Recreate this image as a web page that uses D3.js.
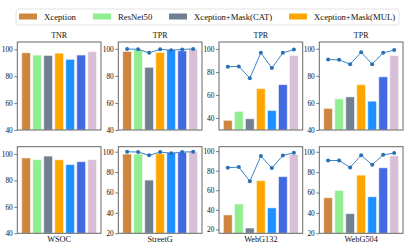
<!DOCTYPE html>
<html>
<head>
<meta charset="utf-8">
<script src="https://cdn.jsdelivr.net/npm/d3@7"></script>
<style>
  body { margin: 0; background: #fff; }
  text { font-family: "Liberation Serif", "DejaVu Serif", serif; fill: #111; }
</style>
</head>
<body>
<div class="chart"></div>
<script>
// data
var models = ["Xception", "ResNet50", "Xception+Mask(CAT)", "Xception+Mask(MUL)", "Model5", "Model6", "Model7"];
var colors = ["#CD853F", "#90EE90", "#708090", "#FFA500", "#1E90FF", "#4169E1", "#D8BFD8"];
var legendCount = 4;

var datasets = ["WSOC", "StreetG", "WebG132", "WebG504"];
var topTitles = ["TNR", "TPR", "TPR", "TPR"];

// top row bars
var topBars = [
    [97.5, 95.8, 95.5, 97.2, 92.6, 95.8, 98.3],
    [98.0, 99.4, 86.3, 97.3, 99.3, 98.5, 99.9],
    [38.0, 45.8, 39.4, 65.5, 46.5, 69.0, 94.3],
    [56.0, 63.0, 64.5, 73.5, 61.3, 79.3, 95.0]
];
var topLines = [
    null,
    [99.8, 99.6, 97.0, 99.6, 98.9, 99.5, 99.9],
    [84.6, 84.8, 74.6, 96.6, 83.4, 96.6, 99.4],
    [92.0, 91.8, 88.6, 97.4, 88.6, 97.0, 99.0]
];
// bottom row bars
var bottomBars = [
    [97.0, 95.7, 98.4, 95.6, 92.0, 94.2, 95.7],
    [97.7, 97.7, 72.2, 98.0, 99.3, 99.4, 99.9],
    [34.8, 46.0, 21.4, 69.8, 42.0, 73.9, 96.6],
    [54.9, 62.0, 39.3, 77.1, 55.9, 84.3, 96.0]
];
var bottomLines = [
    null,
    [99.9, 99.7, 96.4, 99.7, 98.4, 99.7, 99.9],
    [83.0, 83.7, 69.2, 95.0, 82.7, 95.6, 98.3],
    [91.5, 91.5, 84.6, 96.7, 87.3, 97.0, 98.7]
];

var topDomains = [[40, 105.5], [40, 105], [29.6, 106], [40, 105]];
var bottomDomains = [[40, 105.5], [20, 104.9], [16, 104.5], [20, 105]];
var topTicks = [[40, 60, 80, 100], [40, 60, 80, 100], [40, 60, 80, 100], [40, 60, 80, 100]];
var bottomTicks = [[40, 60, 80, 100], [20, 40, 60, 80, 100], [20, 40, 60, 80, 100], [20, 40, 60, 80, 100]];

document.addEventListener('DOMContentLoaded', function() {
    drawFigure();
})

function drawFigure() {
    var W = 411, H = 247;
    var colX = [17.3, 118.3, 219, 319.3];
    var panelW = 83.7;
    var rows = [
        {top: 42, h: 88, bars: topBars, lines: topLines, domains: topDomains, ticks: topTicks},
        {top: 146.7, h: 86.6, bars: bottomBars, lines: bottomLines, domains: bottomDomains, ticks: bottomTicks}
    ];

    var svg = d3.select(".chart")
        .append("svg")
            .attr("width", W)
            .attr("height", H);

    // legend
    var leg = svg.append("g");
    leg.append("rect")
        .attr("x", 16).attr("y", 9)
        .attr("width", 383).attr("height", 16)
        .attr("rx", 2)
        .attr("fill", "#fff")
        .attr("stroke", "#dcdcdc")
        .attr("stroke-width", 0.8);
    var legX = [19, 93, 169, 289];
    for (var i = 0; i < legendCount; i++) {
        leg.append("rect")
            .attr("x", legX[i]).attr("y", 13.5)
            .attr("width", 18).attr("height", 6)
            .attr("fill", colors[i]);
        leg.append("text")
            .attr("x", legX[i] + 25).attr("y", 20)
            .attr("font-size", 8.7)
            .text(models[i]);
    }

    rows.forEach(function(row, r) {
        for (var c = 0; c < 4; c++) {
            var g = svg.append("g")
                .attr("transform", "translate(" + colX[c] + "," + row.top + ")");

            var x = d3.scaleBand()
                .domain(models)
                .range([0, panelW])
                .paddingInner(0.2)
                .paddingOuter(0.4);
            var y = d3.scaleLinear()
                .domain(row.domains[c])
                .range([row.h, 0]);

            g.selectAll(".bar")
                .data(row.bars[c])
                .enter().append("rect")
                    .attr("class", "bar")
                    .attr("x", function(d, i) { return x(models[i]); })
                    .attr("y", function(d) { return y(d); })
                    .attr("width", x.bandwidth())
                    .attr("height", function(d) { return row.h - y(d); })
                    .attr("fill", function(d, i) { return colors[i]; })
                    .attr("stroke", "#fff")
                    .attr("stroke-opacity", 0.55)
                    .attr("stroke-width", 1);

            if (row.lines[c]) {
                var line = d3.line()
                    .x(function(d, i) { return x(models[i]) + x.bandwidth() / 2; })
                    .y(function(d) { return y(d); });
                g.append("path")
                    .attr("d", line(row.lines[c]))
                    .attr("fill", "none")
                    .attr("stroke", "#3a84c4")
                    .attr("stroke-width", 1);
                g.selectAll(".dot")
                    .data(row.lines[c])
                    .enter().append("circle")
                        .attr("class", "dot")
                        .attr("cx", function(d, i) { return x(models[i]) + x.bandwidth() / 2; })
                        .attr("cy", function(d) { return y(d); })
                        .attr("r", 2)
                        .attr("fill", "#2a70b4");
            }

            // y axis
            var ax = g.append("g")
                .call(d3.axisLeft(y).tickValues(row.ticks[c]).tickSize(3).tickPadding(1.5));
            ax.select(".domain").remove();
            ax.selectAll("line").attr("stroke", "#444").attr("stroke-width", 0.7);
            ax.selectAll("text")
                .attr("font-size", 7.4)
                .attr("font-family", "Liberation Serif, serif")
                .attr("fill", "#111");

            // frame
            g.append("rect")
                .attr("width", panelW).attr("height", row.h)
                .attr("fill", "none")
                .attr("stroke", "#666")
                .attr("stroke-width", 1);

            if (r === 0) {
                g.append("text")
                    .attr("x", panelW / 2).attr("y", -4)
                    .attr("text-anchor", "middle")
                    .attr("font-size", 8)
                    .text(topTitles[c]);
            } else {
                g.append("text")
                    .attr("x", panelW / 2).attr("y", row.h + 9)
                    .attr("text-anchor", "middle")
                    .attr("font-size", 8.3)
                    .text(datasets[c]);
            }
        }
    });
}
</script>
</body>
</html>
